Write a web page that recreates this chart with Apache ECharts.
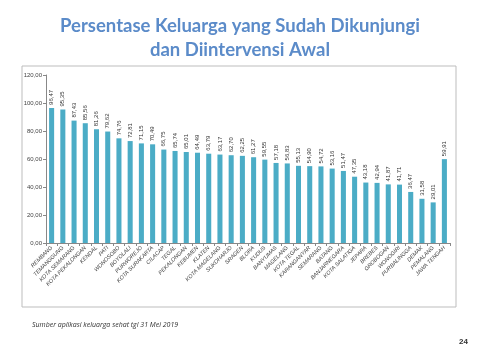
<!DOCTYPE html>
<html><head><meta charset="utf-8">
<script src="https://cdn.jsdelivr.net/npm/echarts@6/dist/echarts.min.js"></script>
<style>html,body{margin:0;padding:0;background:#fff}#c{width:480px;height:360px}</style>
</head><body><div id="c"></div>
<script>
var categories = ["REMBANG","TEMANGGUNG","KOTA SEMARANG","KOTA PEKALONGAN","KENDAL","PATI","WONOSOBO","BOYOLALI","PURWOREJO","KOTA SURAKARTA","CILACAP","TEGAL","PEKALONGAN","KEBUMEN","KLATEN","KOTA MAGELANG","SUKOHARJO","SRAGEN","BLORA","KUDUS","BANYUMAS","MAGELANG","KOTA TEGAL","KARANGANYAR","SEMARANG","BATANG","BANJARNEGARA","KOTA SALATIGA","JEPARA","BREBES","GROBOGAN","WONOGIRI","PURBALINGGA","DEMAK","PEMALANG","JAWA TENGAH"];
var values = [96.47,95.35,87.43,85.56,81.26,79.62,74.76,72.81,71.15,70.49,66.75,65.74,65.01,64.49,63.79,63.17,62.70,62.25,61.27,59.55,57.18,56.83,55.13,54.90,54.72,53.16,51.47,47.35,43.18,42.94,41.87,41.71,36.47,31.58,29.01,59.91];
var yTicks = [0,20,40,60,80,100,120];
var titleLines = ["Persentase Keluarga yang Sudah Dikunjungi","dan Diintervensi Awal"];
var sourceText = "Sumber aplikasi keluarga sehat tgl 31 Mei 2019";
var pageNo = "24";

function fmt(v){return v.toFixed(2).replace('.', ',');}

var chart = echarts.init(document.getElementById('c'), null, {renderer:'canvas'});
chart.setOption({
  animation:false,
  title:{text:titleLines.join('\n'),left:'center',top:9,
    textStyle:{color:'#5b8bc9',fontSize:18.5,fontWeight:'bold',fontFamily:'Lato',lineHeight:24}},
  graphic:[
    {type:'rect',shape:{x:22,y:66,width:434,height:241},style:{fill:'none',stroke:'#bdbdbd',lineWidth:1},z:-1},
    {type:'text',left:32,top:321,style:{text:sourceText,font:'italic 7px "Open Sans"',fill:'#333'}},
    {type:'text',right:12,top:338,style:{text:pageNo,font:'bold 8px "Liberation Sans"',fill:'#333'}}
  ],
  grid:{left:46,right:30,top:75,bottom:117},
  xAxis:{type:'category',data:categories,
    axisLine:{lineStyle:{color:'#888'}},
    axisTick:{show:true,lineStyle:{color:'#888'},length:3},
    axisLabel:{rotate:45,interval:0,fontSize:5.5,fontStyle:'italic',color:'#444',margin:4,fontFamily:'Liberation Sans'}},
  yAxis:{type:'value',min:0,max:120,interval:20,
    axisLine:{show:true,lineStyle:{color:'#888'}},
    axisTick:{show:true,lineStyle:{color:'#888'},length:3},
    splitLine:{show:false},
    axisLabel:{fontSize:6,color:'#444',margin:4,fontFamily:'Liberation Sans',
      formatter:function(v){return yTicks.indexOf(v)>=0?fmt(v):'';}}},
  series:[{type:'bar',data:values,barWidth:'45%',
    itemStyle:{color:'#4bacc6'},
    label:{show:true,position:'top',rotate:90,align:'left',verticalAlign:'middle',distance:3,
      fontSize:6,color:'#333',fontFamily:'Liberation Sans',formatter:function(p){return fmt(p.value);}}}]
});
</script></body></html>
